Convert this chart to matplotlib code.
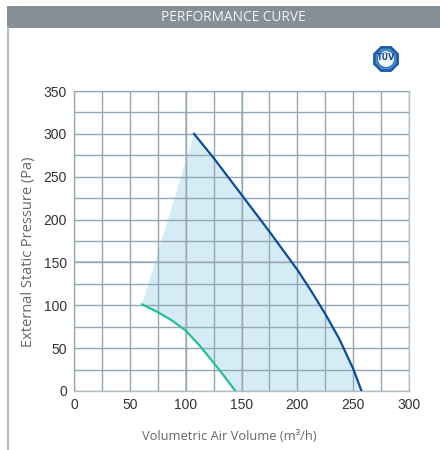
import matplotlib
matplotlib.use("Agg")
import matplotlib.pyplot as plt
from matplotlib.patches import Rectangle, RegularPolygon
import numpy as np

# Data
max_x = [107.5, 125, 150, 175, 200, 212.5, 225, 237.5, 250, 257.5]
max_y = [300, 272, 229, 186, 141.5, 116.5, 90, 61, 26, 0]
min_x = [61, 75, 87.5, 100, 112.5, 125, 135, 144.5]
min_y = [101, 92, 82.5, 70.5, 53, 33, 16.5, 0]
x_ticks = [0, 50, 100, 150, 200, 250, 300]
y_ticks = [0, 50, 100, 150, 200, 250, 300, 350]
light_x = [100, 150]
light_y = [150]

W, H = 440, 450
fig = plt.figure(figsize=(W / 100, H / 100), dpi=100)
fig.patch.set_facecolor("white")

# header bar
fig.patches.append(Rectangle((7 / W, 1 - 28 / H), 433 / W, 22 / H,
                             transform=fig.transFigure, facecolor="#868f96",
                             edgecolor="none", zorder=0))
fig.text(233 / W, 1 - 17.5 / H, "PERFORMANCE CURVE", color="#f4f4f4",
         fontsize=9.8, family="Open Sans", ha="center", va="center")
# left vertical line
fig.add_artist(plt.Line2D([8 / W, 8 / W], [1 - 28 / H, 1 - 449 / H],
                          transform=fig.transFigure, color="#b8bfc4", lw=1.5))

# logo
logo_ax = fig.add_axes([372 / W, 1 - 73 / H, 28 / W, 28 / H])
logo_ax.set_xlim(-1, 1)
logo_ax.set_ylim(-1, 1)
logo_ax.axis("off")
logo_ax.add_patch(RegularPolygon((0, 0), 8, radius=1.0, orientation=np.pi / 8,
                                 facecolor="#1d5aa5", edgecolor="none"))
logo_ax.add_patch(RegularPolygon((0, 0), 8, radius=0.8, orientation=np.pi / 8,
                                 facecolor="#4a8fd0", edgecolor="none"))
logo_ax.add_patch(plt.Circle((0, 0), 0.6, facecolor="#f2f6fa", edgecolor="#1d5aa5", lw=0.5))
logo_ax.text(0, 0.12, "TÜV", ha="center", va="center", fontsize=5.8,
             fontweight="bold", color="#1d4a8a", family="DejaVu Sans Condensed")

# main axes
x0, x1 = 74, 409
y0, y1 = 391, 91
ax = fig.add_axes([x0 / W, 1 - y0 / H, (x1 - x0) / W, (y0 - y1) / H])
ax.set_xlim(0, 300)
ax.set_ylim(0, 350)

grid_c = "#92a8b3"
ax.set_xticks(x_ticks)
ax.set_xticks(np.arange(0, 301, 25), minor=True)
ax.set_yticks(y_ticks)
ax.set_yticks(np.arange(0, 351, 25), minor=True)
ax.grid(True, which="both", color=grid_c, lw=1.0, zorder=1)
ax.set_axisbelow(False)
for v in light_x:
    ax.axvline(v, color="#c9cfd2", lw=1.4, zorder=1.5)
for v in light_y:
    ax.axhline(v, color="#c9cfd2", lw=1.4, zorder=1.5)
ax.tick_params(which="both", length=0)
ax.tick_params(labelsize=10, colors="#333333", pad=5)
for lab in ax.get_xticklabels() + ax.get_yticklabels():
    lab.set_family(["Liberation Sans Narrow", "Liberation Sans"])
for s in ax.spines.values():
    s.set_color("#b3bec4")
    s.set_linewidth(1.0)

# fill region
poly_x = list(max_x) + list(min_x[::-1])
poly_y = list(max_y) + list(min_y[::-1])
ax.fill(poly_x, poly_y, color="#d5ecf6", lw=0, zorder=0.5)

ax.plot(max_x, max_y, color="#0b4d98", lw=1.6, zorder=3)
ax.plot(min_x, min_y, color="#25bf98", lw=1.6, zorder=3)

fig.text(229 / W, 1 - 436 / H, "Volumetric Air Volume (m³/h)", ha="center",
         va="center", fontsize=9.3, color="#666666", family="Open Sans")
fig.text(29 / W, 1 - 252 / H, "External Static Pressure (Pa)", ha="center",
         va="center", fontsize=10.5, color="#666666", family="Open Sans",
         rotation=90)

fig.savefig("out.png", dpi=100, facecolor="white")
